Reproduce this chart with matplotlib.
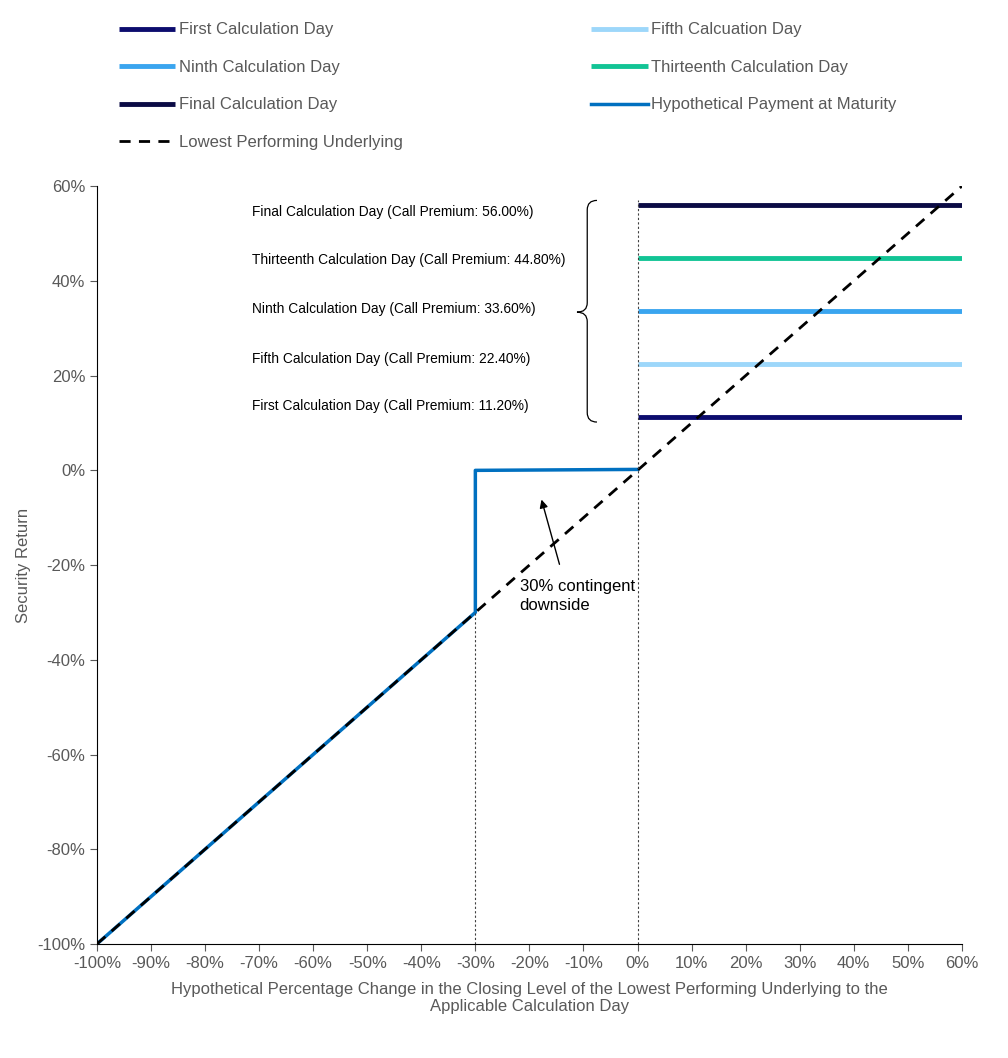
import matplotlib
matplotlib.use("Agg")
import matplotlib.pyplot as plt
from matplotlib.path import Path
from matplotlib.patches import PathPatch
from matplotlib.ticker import MultipleLocator, FuncFormatter

plt.rcParams['font.family'] = ['Liberation Sans', 'DejaVu Sans']
gray = '#595959'

premium_names = ["First Calculation Day", "Fifth Calcuation Day", "Ninth Calculation Day",
                 "Thirteenth Calculation Day", "Final Calculation Day"]
premium_values = [11.2, 22.4, 33.6, 44.8, 56.0]
premium_colors = ['#0c0c6e', '#9dd7fa', '#3aa5ef', '#12c495', '#0b0b45']
label_texts = ["First Calculation Day (Call Premium: 11.20%)",
               "Fifth Calculation Day (Call Premium: 22.40%)",
               "Ninth Calculation Day (Call Premium: 33.60%)",
               "Thirteenth Calculation Day (Call Premium: 44.80%)",
               "Final Calculation Day (Call Premium: 56.00%)"]
label_y = [13.5, 23.5, 34.0, 44.5, 54.5]
payment_x = [-100, -30, -30, 0]
payment_y = [-100, -30, 0, 0.2]
underlying_x = [-100, 60]
underlying_y = [-100, 60]

fig = plt.figure(figsize=(10.08, 10.58), dpi=100)
ax = fig.add_axes([0.0962, 0.1078, 0.858, 0.7162])

handles = {}
for n, v, c in zip(premium_names, premium_values, premium_colors):
    handles[n], = ax.plot([0, 60], [v, v], color=c, lw=3.5, solid_capstyle='butt')
handles['pay'], = ax.plot(payment_x, payment_y, color='#0070c0', lw=2.5)
handles['low'], = ax.plot(underlying_x, underlying_y, color='black', lw=2, ls=(0, (4, 3)))
ax.plot([-30, -30], [-100, -30], color='#404040', lw=0.8, ls=(0, (2, 2)))
ax.plot([0, 0], [-100, 57], color='#404040', lw=0.8, ls=(0, (2, 2)))

for t, y in zip(label_texts, label_y):
    ax.text(-71.3, y, t, fontsize=9.9, va='center', ha='left', color='black')

# brace
xe, xt, xm = -7.5, -11.2, -9.3
yt, yb, ymid = 57, 10.2, 33.4
verts = [(xe, yt), (xm, yt), (xm, yt - 2), (xm, ymid + 2), (xm, ymid), (xt, ymid),
         (xm, ymid), (xm, ymid - 2), (xm, yb + 2), (xm, yb), (xe, yb)]
codes = [Path.MOVETO, Path.CURVE3, Path.CURVE3, Path.LINETO, Path.CURVE3, Path.CURVE3,
         Path.CURVE3, Path.CURVE3, Path.LINETO, Path.CURVE3, Path.CURVE3]
ax.add_patch(PathPatch(Path(verts, codes), fill=False, lw=0.9, color='black'))

ax.annotate("", xy=(-17.9, -5.6), xytext=(-14.3, -20.4),
            arrowprops=dict(arrowstyle='-|>', color='black', lw=1, mutation_scale=12))
ax.text(-21.8, -23, "30% contingent\ndownside", fontsize=12, va='top', ha='left',
        linespacing=1.3)

ax.set_xlim(-100, 60)
ax.set_ylim(-100, 60)
ax.xaxis.set_major_locator(MultipleLocator(10))
ax.yaxis.set_major_locator(MultipleLocator(20))
ax.xaxis.set_major_formatter(FuncFormatter(lambda v, p: f"{v:.0f}%"))
ax.yaxis.set_major_formatter(FuncFormatter(lambda v, p: f"{v:.0f}%"))
ax.tick_params(direction='out', labelsize=12, colors=gray, labelcolor=gray, length=5)
for s in ['top', 'right']:
    ax.spines[s].set_visible(False)
for s in ['left', 'bottom']:
    ax.spines[s].set_color('black')
ax.set_xlabel("Hypothetical Percentage Change in the Closing Level of the Lowest Performing Underlying to the\nApplicable Calculation Day",
              fontsize=12, color=gray, labelpad=8)
ax.set_ylabel("Security Return", fontsize=12, color=gray, labelpad=4)

order = [premium_names[0], premium_names[2], premium_names[4], 'low',
         premium_names[1], premium_names[3], 'pay']
labels = {'low': 'Lowest Performing Underlying', 'pay': 'Hypothetical Payment at Maturity'}
fig.legend([handles[k] for k in order], [labels.get(k, k) for k in order],
           ncol=2, loc='upper left', bbox_to_anchor=(0.103, 0.993), frameon=False,
           fontsize=12, labelcolor=gray, handlelength=3.4, handletextpad=0.2,
           columnspacing=11.3, labelspacing=1.35)

fig.savefig("out.png", dpi=100)
